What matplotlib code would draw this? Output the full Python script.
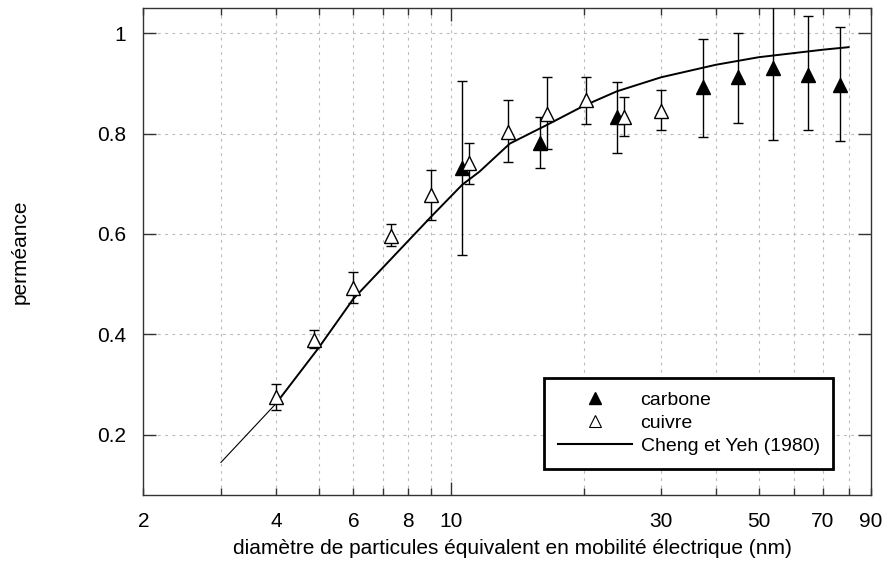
import numpy as np
import matplotlib
matplotlib.use('Agg')
import matplotlib.pyplot as plt
from matplotlib.lines import Line2D
from matplotlib.ticker import FixedLocator, FixedFormatter

plt.rcParams['font.family'] = ['Liberation Sans', 'DejaVu Sans']
plt.rcParams['font.size'] = 15

# Cheng et Yeh (1980) curve
curve_d = [3, 4, 5, 6, 9, 10.6, 11.6, 13.6, 16.5, 20, 23.8, 30, 40, 50, 70, 80]
curve_p = [0.145, 0.262, 0.373, 0.471, 0.634, 0.698, 0.724, 0.780, 0.817, 0.855,
           0.884, 0.912, 0.937, 0.952, 0.967, 0.972]

# carbone (filled triangles)
carb_d = [10.6, 15.9, 23.8, 37.4, 44.8, 53.9, 64.8, 76.5]
carb_p = [0.731, 0.782, 0.833, 0.892, 0.912, 0.931, 0.917, 0.897]
carb_hi = [0.905, 0.833, 0.902, 0.988, 1.000, 1.070, 1.035, 1.013]
carb_lo = [0.558, 0.731, 0.762, 0.794, 0.821, 0.787, 0.807, 0.786]

# cuivre (open triangles)
cuiv_d = [4.0, 4.89, 6.0, 7.3, 9.0, 11.0, 13.5, 16.5, 20.3, 24.75, 30.0]
cuiv_p = [0.275, 0.389, 0.492, 0.595, 0.678, 0.742, 0.804, 0.839, 0.866, 0.833, 0.845]
cuiv_hi = [0.301, 0.409, 0.525, 0.620, 0.728, 0.782, 0.867, 0.912, 0.912, 0.872, 0.887]
cuiv_lo = [0.250, 0.373, 0.462, 0.575, 0.628, 0.699, 0.743, 0.770, 0.819, 0.796, 0.807]

xticks_minor = [2, 3, 4, 5, 6, 7, 8, 9, 20, 30, 40, 50, 60, 70, 80, 90]
xlabels_minor = ['2', '', '4', '', '6', '', '8', '', '', '30', '', '50', '', '70', '', '90']
yticks = [0.2, 0.4, 0.6, 0.8, 1.0]
ylabels = ['0.2', '0.4', '0.6', '0.8', '1']

fig = plt.figure(figsize=(8.85, 5.81), dpi=100)
ax = fig.add_axes([0.1621, 0.148, 0.8221, 0.8382])
ax.set_xscale('log')
ax.set_xlim(2, 90)
ax.set_ylim(0.08, 1.05)

# grid
gridkw = dict(color='#bbbbbb', linestyle=(0, (2.5, 4)), linewidth=0.8, zorder=0)
for xv in [3, 4, 5, 6, 7, 8, 9, 10, 20, 30, 40, 50, 60, 70, 80]:
    ax.axvline(xv, **gridkw)
for yv in yticks:
    ax.axhline(yv, **gridkw)

# theory curve (first segment drawn thinner)
ax.plot(curve_d[:2], curve_p[:2], color='black', lw=0.8, zorder=2)
ax.plot(curve_d[1:], curve_p[1:], color='black', lw=1.4, zorder=2)

def errs(p, lo, hi):
    p = np.array(p)
    return [p - np.array(lo), np.array(hi) - p]

ax.errorbar(carb_d, carb_p, yerr=errs(carb_p, carb_lo, carb_hi), fmt='^',
            color='black', mfc='black', mec='black', ms=10, elinewidth=1,
            capsize=3.5, capthick=1, zorder=3)
ax.errorbar(cuiv_d, cuiv_p, yerr=errs(cuiv_p, cuiv_lo, cuiv_hi), fmt='^',
            color='black', mfc='white', mec='black', ms=10, mew=1, elinewidth=1,
            capsize=3.5, capthick=1, zorder=3)

# ticks
ax.xaxis.set_major_locator(FixedLocator([10]))
ax.xaxis.set_major_formatter(FixedFormatter(['10']))
ax.xaxis.set_minor_locator(FixedLocator(xticks_minor))
ax.xaxis.set_minor_formatter(FixedFormatter(xlabels_minor))
ax.set_yticks(yticks)
ax.set_yticklabels(ylabels)
ax.tick_params(which='major', direction='in', length=9.5, width=1, top=True, right=True,
               labelsize=15, color='#333333')
ax.tick_params(which='minor', direction='in', length=5, width=1, top=True,
               labelsize=15, color='#333333')
ax.tick_params(axis='x', which='both', pad=12.5)
ax.tick_params(axis='y', which='both', pad=12.5)
for s in ax.spines.values():
    s.set_color('#333333')
    s.set_linewidth(1)

ax.set_xlabel('diamètre de particules équivalent en mobilité électrique (nm)')
ax.set_ylabel('perméance')
ax.xaxis.set_label_coords(0.507, -0.09)
ax.yaxis.set_label_coords(-0.157, 0.5)

handles = [Line2D([], [], marker='^', ls='none', color='black', ms=8.5),
           Line2D([], [], marker='^', ls='none', mfc='white', mec='black', ms=8.5, mew=0.8),
           Line2D([], [], color='black', lw=1.5)]
leg = ax.legend(handles, ['carbone', 'cuivre', 'Cheng et Yeh (1980)'],
                loc='lower left', bbox_to_anchor=(0.5505, 0.0534, 0.397, 0.19),
                mode='expand', fancybox=False, edgecolor='black', framealpha=1,
                handlelength=3.8, handletextpad=0.45, labelspacing=0.27,
                borderpad=0.72, borderaxespad=0, fontsize=14)
leg.get_frame().set_linewidth(2)

fig.savefig('out.png', dpi=100)
